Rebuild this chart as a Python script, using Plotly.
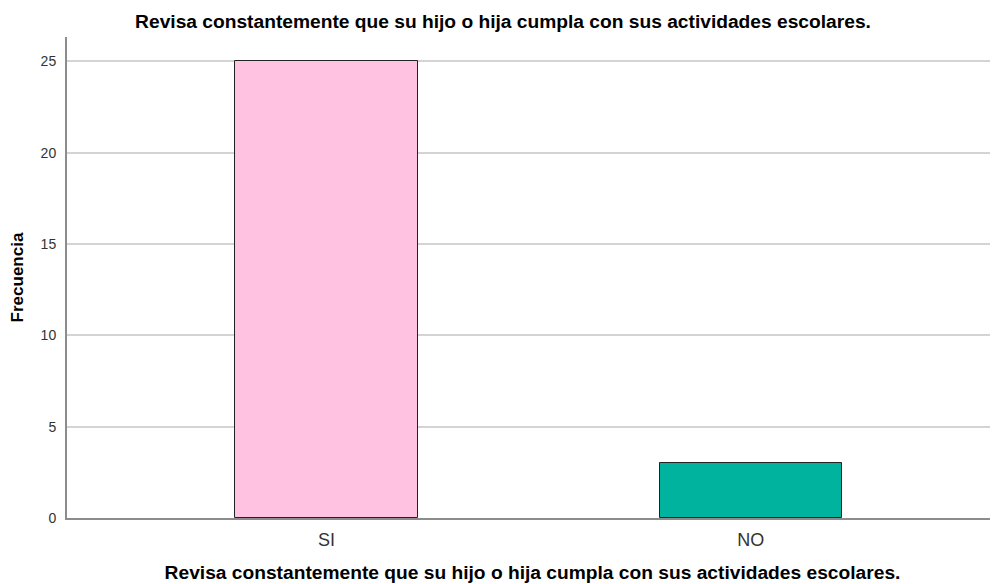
import plotly.graph_objects as go

# Data
categories = ["SI", "NO"]
frequencies = [25, 3]
bar_colors = ["#FFC2E1", "#00B39E"]
y_ticks = [0, 5, 10, 15, 20, 25]

question = "Revisa constantemente que su hijo o hija cumpla con sus actividades escolares."

# the page body has an 8px margin, so the figure is drawn 8px smaller
fig_w, fig_h = 990, 576

fig = go.Figure()
fig.add_trace(
    go.Bar(
        x=categories,
        y=frequencies,
        marker={"color": bar_colors, "line": {"color": "#222222", "width": 1}},
        width=0.43,
        showlegend=False,
    )
)

fig.update_layout(
    width=fig_w,
    height=fig_h,
    margin={"l": 59, "r": 0, "t": 29, "b": 66},
    paper_bgcolor="white",
    plot_bgcolor="white",
    font={"family": "Liberation Sans, Arial, sans-serif", "color": "#000000"},
    title={
        "text": f"<b>{question}</b>",
        "x": 0.5,
        "xanchor": "center",
        "y": 1 - 13 / fig_h,
        "yanchor": "middle",
        "font": {"size": 19.2},
    },
    bargap=0,
)

fig.update_xaxes(
    range=[-0.612, 1.583],
    showline=True,
    linecolor="#8c8c8c",
    linewidth=2,
    showgrid=False,
    ticks="",
    ticklabelstandoff=4,
    tickfont={"size": 18, "color": "#333333"},
    title={"text": f"<b>{question}</b>", "font": {"size": 19.2}, "standoff": 17},
)
fig.update_yaxes(
    range=[0, 26.33],
    tickvals=y_ticks,
    showline=True,
    linecolor="#8c8c8c",
    linewidth=2,
    showgrid=True,
    gridcolor="#d4d4d4",
    gridwidth=2,
    zeroline=False,
    ticks="",
    ticklabelstandoff=6,
    tickfont={"size": 14, "color": "#333333"},
    title={"text": "<b>Frecuencia</b>", "font": {"size": 17}, "standoff": 15},
)

fig.write_html("out.html")
